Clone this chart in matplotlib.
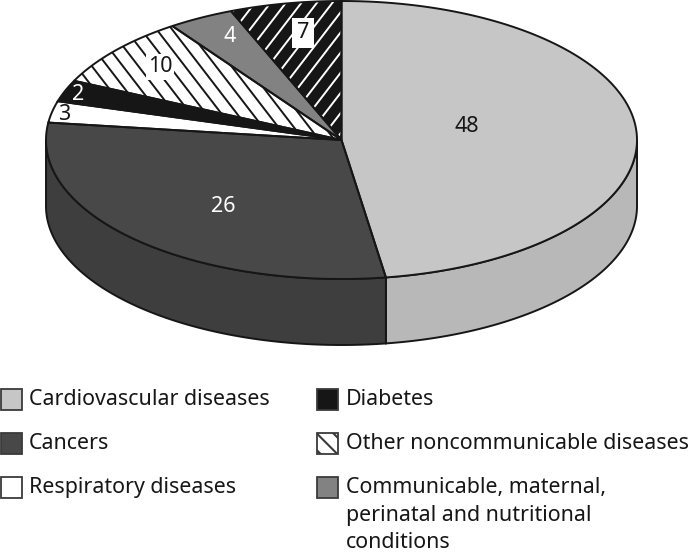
import matplotlib

matplotlib.use("Agg")
import matplotlib.pyplot as plt
import numpy as np
from matplotlib.patches import Polygon, Rectangle

plt.rcParams["font.family"] = ["Noto Sans", "DejaVu Sans"]
plt.rcParams["hatch.linewidth"] = 1.5

# printed labels, and the shares the slices really take up in the picture
# (the drawn pie is skewed by its 3d look, so they are not the same)
slice_labels = ["48", "26", "3", "2", "10", "4", "7"]
slice_shares = [47.6, 29.4, 2.5, 2.5, 8.3, 3.6, 6.1]
slice_names = [
    "Cardiovascular diseases",
    "Cancers",
    "Respiratory diseases",
    "Diabetes",
    "Other noncommunicable diseases",
    "Communicable, maternal,\nperinatal and nutritional\nconditions",
]

top_colors = ["#c6c6c6", "#484848", "#ffffff", "#161616", "#ffffff", "#828282", "#161616"]
side_colors = ["#b8b8b8", "#3e3e3e"]
stripe_dir = [0, 0, 0, 0, 1, 0, -1]  # 1 = falling to the right, -1 = rising
stripe_colors = [None, None, None, None, "#161616", None, "white"]
label_colors = ["#161616", "white", "#161616", "white", "#161616", "white", "#161616"]
label_xy = [(467, 127), (223, 206), (64, 115), (78, 95), (160, 67), (230, 36), (303, 33)]

cx, cy, rx, ry, depth = 341.5, 140, 295.5, 139, 66
stripe_gap, stripe_slope = 15.5, 1.3

fig = plt.figure(figsize=(6.9, 5.53), dpi=100)
ax = fig.add_axes([0, 0, 1, 1])
ax.set_xlim(0, 690)
ax.set_ylim(553, 0)
ax.axis("off")


def rim(a, b, dy=0):
    t = np.radians(np.linspace(a, b, 200))
    return np.column_stack([cx + rx * np.sin(t), cy + dy - ry * np.cos(t)])


edges = np.concatenate([[0], np.cumsum(slice_shares)]) * 360 / sum(slice_shares)

# side wall, only the front half can be seen
for i, c in enumerate(side_colors):
    a, b = max(edges[i], 90), min(edges[i + 1], 270)
    pts = np.vstack([rim(a, b), rim(a, b, depth)[::-1]])
    ax.add_patch(Polygon(pts, closed=True, fc=c, ec="#161616", lw=1.4, zorder=1))

# top face
for i, lab in enumerate(slice_labels):
    pts = np.vstack([[cx, cy], rim(edges[i], edges[i + 1])])
    wedge = ax.add_patch(Polygon(pts, closed=True, fc=top_colors[i], ec="none", zorder=2))
    if stripe_dir[i]:
        # stripes are steeper than 45 deg, so no hatch= here
        for x0 in np.arange(-300, 700, stripe_gap):
            xs = np.array([0, 300.0]) + x0
            ys = (xs - x0) * stripe_slope
            if stripe_dir[i] < 0:
                ys = 160 - ys
            line, = ax.plot(xs, ys, color=stripe_colors[i], lw=1.4, zorder=2.5)
            line.set_clip_path(wedge)
    ax.add_patch(Polygon(pts, closed=True, fc="none", ec="#161616", lw=1.4, zorder=3))
    box = None
    if lab == "7":
        box = dict(fc="white", ec="none", pad=3.5)
    if lab == "10":
        box = dict(fc="white", ec="none", pad=1.5)
    ax.text(label_xy[i][0], label_xy[i][1], lab, color=label_colors[i], fontsize=15.5,
            ha="center", va="center", bbox=box, zorder=4)

# legend by hand, two columns
swatch_x = [1, 317]
text_x = [29, 346]
row_y = [399, 443, 487]
for n, name in enumerate(slice_names):
    col, row = n // 3, n % 3
    hatch = "\\\\" if n == 4 else None
    ax.add_patch(Rectangle((swatch_x[col], row_y[row] - 10), 20.5, 20.5,
                           fc=top_colors[n], ec="#3a3a3a", lw=1.3, hatch=hatch, zorder=2))
    ax.text(text_x[col], row_y[row] - 10, name, color="#161616", fontsize=15.4,
            ha="left", va="top", linespacing=1.42)

fig.savefig("out.png", dpi=100)
